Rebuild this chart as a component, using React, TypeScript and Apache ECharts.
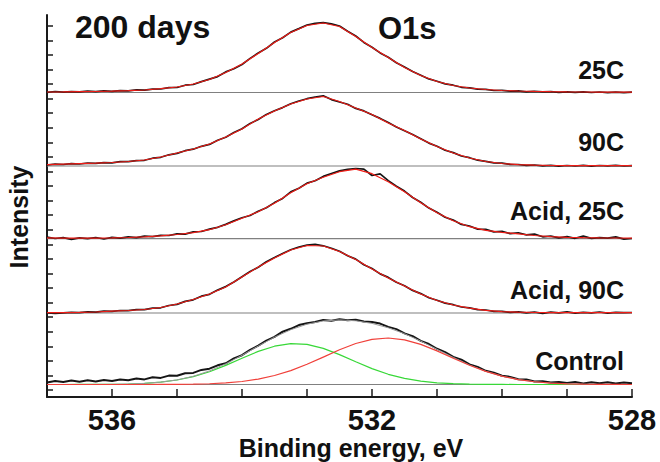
import React, { useEffect, useRef } from "react";
import * as echarts from "echarts";

// Binding energy grids (eV)
const energyFit = [
  537, 536.75, 536.5, 536.25, 536, 535.75, 535.5, 535.25, 535, 534.75, 534.5, 534.25,
  534, 533.75, 533.5, 533.25, 533, 532.75, 532.5, 532.25, 532, 531.75, 531.5, 531.25,
  531, 530.75, 530.5, 530.25, 530, 529.75, 529.5, 529.25, 529, 528.75, 528.5, 528.25, 528,
];
const energyData = [
  537, 536.875, 536.75, 536.625, 536.5, 536.375, 536.25, 536.125,
  536, 535.875, 535.75, 535.625, 535.5, 535.375, 535.25, 535.125,
  535, 534.875, 534.75, 534.625, 534.5, 534.375, 534.25, 534.125,
  534, 533.875, 533.75, 533.625, 533.5, 533.375, 533.25, 533.125,
  533, 532.875, 532.75, 532.625, 532.5, 532.375, 532.25, 532.125,
  532, 531.875, 531.75, 531.625, 531.5, 531.375, 531.25, 531.125,
  531, 530.875, 530.75, 530.625, 530.5, 530.375, 530.25, 530.125,
  530, 529.875, 529.75, 529.625, 529.5, 529.375, 529.25, 529.125,
  529, 528.875, 528.75, 528.625, 528.5, 528.375, 528.25, 528.125,
  528,
];

const labels = ["25C", "90C", "Acid, 25C", "Acid, 90C", "Control"];
// stacking offsets (baseline of each spectrum)
const baselines = [304.5, 231, 158.3, 84, 12.5];

// measured spectra (intensity above baseline)
const data25C = [
  0.2, 1.0, 0.4, 0.9, 0.6, 1.3, 0.9, 1.6,
  1.1, 1.9, 1.6, 2.6, 2.3, 3.4, 3.5, 4.9,
  5.0, 7.3, 8.0, 10.9, 13.4, 15.9, 20.6, 23.8,
  28.0, 34.1, 39.6, 44.2, 50.5, 54.8, 60.4, 63.9,
  67.5, 69.2, 69.8, 68.6, 66.5, 61.2, 56.5, 50.1,
  45.3, 39.6, 35.2, 29.8, 25.4, 21.0, 17.3, 13.6,
  11.2, 8.6, 7.3, 5.2, 4.6, 3.3, 3.2, 2.0,
  2.2, 1.3, 1.6, 0.7, 1.2, 0.6, 0.9, 0.2,
  0.7, 0.1, 0.6, 0.0, 0.5, -0.1, 0.4, -0.2,
  0.3,
];
const data90C = [
  1.0, 1.8, 1.5, 2.3, 2.0, 2.9, 2.6, 3.4,
  3.2, 4.3, 4.4, 5.4, 5.7, 7.8, 8.7, 11.2,
  12.6, 15.3, 16.8, 19.7, 21.6, 25.8, 28.7, 33.4,
  37.2, 42.6, 46.5, 51.6, 55.3, 58.4, 62.2, 65.0,
  67.3, 69.0, 70.2, 66.4, 64.0, 61.8, 57.6, 55.1,
  51.2, 47.6, 43.4, 39.0, 35.2, 31.5, 27.3, 22.9,
  19.8, 15.7, 13.4, 10.0, 8.3, 5.8, 4.7, 3.1,
  2.8, 1.6, 1.5, 0.6, 1.0, 0.2, 0.7, -0.2,
  0.5, 0.0, 0.6, -0.1, 0.5, 0.1, 0.6, 0.0,
  0.4,
];
const dataAcid25C = [
  1.5, 0.2, 1.0, -0.6, 0.9, 0.0, 1.2, -0.3,
  1.3, 0.6, 1.8, 1.0, 2.5, 2.0, 3.4, 3.2,
  4.9, 4.6, 6.8, 7.2, 9.6, 11.4, 14.3, 17.8,
  20.9, 23.2, 27.5, 31.0, 36.1, 40.3, 46.8, 50.4,
  55.6, 58.0, 62.3, 65.2, 67.8, 69.4, 70.2, 69.6,
  63.2, 64.8, 58.1, 52.4, 47.6, 41.2, 36.4, 30.6,
  26.5, 21.4, 18.6, 14.3, 12.7, 9.6, 9.3, 6.8,
  7.4, 5.1, 5.9, 3.8, 4.6, 1.9, 2.5, 0.9,
  2.0, 0.4, 2.6, 0.3, 1.0, 0.6, 1.8, -0.4,
  0.2,
];
const dataAcid90C = [
  0.0, -0.5, 0.2, 0.6, 0.4, 1.1, 0.9, 1.9,
  1.6, 2.5, 2.3, 3.4, 3.3, 4.8, 5.2, 7.5,
  8.6, 11.6, 13.2, 16.8, 18.7, 22.9, 26.4, 31.0,
  36.3, 41.5, 45.8, 51.3, 55.4, 59.6, 63.3, 66.0,
  67.9, 68.6, 67.2, 64.8, 61.8, 57.3, 53.9, 48.2,
  44.5, 39.1, 35.6, 30.8, 27.3, 22.6, 19.4, 15.3,
  12.8, 9.9, 8.3, 6.0, 5.1, 3.4, 3.0, 1.6,
  1.7, 0.6, 1.2, 0.1, 0.8, -0.3, 0.9, 0.1,
  1.2, -0.2, 0.7, 0.2, 1.0, -0.1, 0.6, 0.3,
  0.5,
];
const dataControl = [
  2.0, 3.6, 2.6, 3.9, 2.8, 4.2, 3.1, 4.6,
  3.5, 5.0, 4.2, 5.9, 5.1, 7.2, 6.6, 8.9,
  8.7, 11.3, 11.6, 14.6, 15.8, 19.2, 21.2, 26.1,
  29.3, 34.6, 38.8, 43.9, 47.6, 52.8, 55.7, 59.4,
  61.2, 62.5, 64.6, 63.7, 65.3, 64.2, 64.8, 63.1,
  62.4, 60.9, 57.6, 55.4, 51.1, 48.3, 43.6, 40.5,
  35.7, 32.4, 27.6, 24.8, 20.1, 17.6, 13.7, 11.8,
  8.8, 7.6, 5.2, 4.9, 3.1, 3.3, 1.9, 2.6,
  1.5, 2.4, 1.1, 2.2, 1.2, 2.3, 0.9, 1.9,
  1.2,
];

// fitted curves
const fit25C = [
  0.5, 0.6, 0.8, 1.0, 1.3, 1.8, 2.5, 3.8, 5.5, 8.5, 13, 20, 28.5, 39, 50, 60,
  67, 69.5, 66, 56, 45, 35, 25, 17, 11, 7, 4.5, 3, 2, 1.5, 1.1, 0.8, 0.6, 0.5, 0.4, 0.3, 0.3,
];
const fit90C = [
  1.3, 1.8, 2.3, 2.8, 3.5, 4.5, 6, 9, 13, 17, 22, 29, 37, 47, 55, 62,
  67, 69.5, 64.5, 58, 51.5, 43, 35.5, 27, 19.5, 13, 8, 4.5, 2.5, 1.3, 0.8, 0.5, 0.3, 0.3, 0.3, 0.3, 0.3,
];
const fitAcid25C = [
  0.8, 0.6, 0.5, 0.6, 0.8, 1.2, 1.8, 2.8, 4.2, 6, 9, 14, 20.5, 27, 35.5, 46,
  55, 61.5, 67, 69.5, 65, 57, 47, 36, 26, 18, 12, 8.3, 6.3, 4.8, 3.2, 2, 1.3, 1, 0.8, 0.7, 0.6,
];
const fitAcid90C = [
  0.3, 0.4, 0.6, 1, 1.8, 2.5, 3.5, 5.5, 9, 13.5, 19, 26, 36, 46, 55, 63,
  67.5, 67, 61.5, 53.5, 44, 35, 27, 19, 12.5, 8, 4.8, 2.7, 1.4, 0.8, 0.5, 0.4, 0.3, 0.3, 0.3, 0.3, 0.3,
];
const controlPeakHigh = [
  0, 0.01, 0.03, 0.07, 0.2, 0.5, 1.1, 2.3, 4.5, 7.9, 12.8, 19.1, 26.2, 33.1, 38.3, 40.9,
  40.1, 36.1, 29.9, 22.7, 15.9, 10.2, 6.1, 3.3, 1.6, 0.8, 0.3, 0.1, 0.04, 0, 0, 0, 0, 0, 0, 0, 0,
];
const controlPeakLow = [
  0, 0, 0, 0, 0, 0.01, 0.02, 0.06, 0.15, 0.35, 0.77, 1.58, 3.0, 5.4, 9.0, 13.9,
  20.2, 27.4, 34.7, 41.0, 45.2, 46.5, 44.7, 40.1, 33.6, 26.3, 19.2, 13.1, 8.3, 4.95, 2.75, 1.42, 0.69, 0.31, 0.13, 0.05, 0.02,
];
const controlEnvelope = [
  0, 0.01, 0.03, 0.07, 0.2, 0.5, 1.1, 2.4, 4.6, 8.2, 13.6, 20.7, 29.2, 38.5, 47.3, 54.8,
  60.3, 63.5, 64.6, 63.7, 61.1, 56.7, 50.8, 43.4, 35.2, 27.1, 19.5, 13.2, 8.3, 4.95, 2.75, 1.42, 0.69, 0.31, 0.13, 0.05, 0.02,
];

const xTickLabels = [536, 532, 528];
const yTickValues = [
  7, 21.57, 36.14, 50.71, 65.28, 79.85, 94.42, 108.99, 123.56, 138.13, 152.7, 167.27, 181.84,
  196.41, 210.98, 225.55, 240.12, 254.69, 269.26, 283.83, 298.4, 312.97, 327.54, 342.11, 356.68, 371.25,
];

const measured = [data25C, data90C, dataAcid25C, dataAcid90C, dataControl];
const fits = [fit25C, fit90C, fitAcid25C, fitAcid90C];

const FONT = '"Liberation Sans", Arial, Helvetica, sans-serif';
const AXIS = "#1a1a1a";

function lineSeries(xs: number[], ys: number[], off: number, color: string, width: number) {
  return {
    type: "line",
    data: xs.map((x, i) => [x, off + ys[i]]),
    showSymbol: false,
    symbol: "none",
    silent: true,
    lineStyle: { color, width },
    itemStyle: { color },
    z: 2,
  };
}

export default function App() {
  const ref = useRef<HTMLDivElement>(null);
  useEffect(() => {
    if (!ref.current) return;
    const chart = echarts.init(ref.current, undefined, { renderer: "svg" });
    const series: any[] = [];
    baselines.forEach((b) => {
      series.push(lineSeries([537, 528], [0, 0], b, "#808080", 1.2));
    });
    measured.forEach((d, i) => {
      if (i === 4) return;
      series.push(lineSeries(energyData, d, baselines[i], "#151515", 1.7));
      series.push(lineSeries(energyFit, fits[i], baselines[i], "#ee1c16", 1.2));
    });
    const cb = baselines[4];
    series.push(lineSeries(energyFit, controlPeakHigh, cb, "#38d838", 1.2));
    series.push(lineSeries(energyData, dataControl, cb, "#151515", 2));
    series.push(lineSeries(energyFit, controlEnvelope, cb, "#9a9a9a", 1));
    series.push(lineSeries(energyFit, controlPeakLow, cb, "#f0403a", 1.2));

    const labelY = [69.5, 141.7, 211, 290, 361];
    const graphic: any[] = [
      {
        type: "text", x: 75, y: 27,
        style: { text: "200 days", fontSize: 32, fontWeight: "bold", fontFamily: FONT, fill: "#111", align: "left", verticalAlign: "middle" },
      },
      {
        type: "text", x: 378, y: 28,
        style: { text: "O1s", fontSize: 31, fontWeight: "bold", fontFamily: FONT, fill: "#111", align: "left", verticalAlign: "middle" },
      },
      {
        type: "text", x: 351, y: 448,
        style: { text: "Binding energy, eV", fontSize: 25, fontWeight: "bold", fontFamily: FONT, fill: "#111", align: "center", verticalAlign: "middle" },
      },
      {
        type: "text", x: 19, y: 217, rotation: Math.PI / 2,
        style: { text: "Intensity", fontSize: 25, fontWeight: "bold", fontFamily: FONT, fill: "#111", align: "center", verticalAlign: "middle" },
      },
      ...labels.map((t, i) => ({
        type: "text", x: 624, y: labelY[i],
        style: { text: t, fontSize: 25, fontWeight: "bold", fontFamily: FONT, fill: "#111", align: "right", verticalAlign: "middle" },
      })),
    ];

    chart.setOption({
      animation: false,
      backgroundColor: "#ffffff",
      grid: { left: 47, right: 28, top: 15, bottom: 65 },
      xAxis: {
        type: "value",
        min: 528,
        max: 537,
        interval: 1,
        inverse: true,
        axisLine: { show: true, lineStyle: { color: AXIS, width: 2 } },
        axisTick: { show: true, inside: true, length: 8, lineStyle: { color: AXIS, width: 1.5 } },
        axisLabel: {
          formatter: (v: number) => (xTickLabels.includes(v) ? String(v) : ""),
          fontSize: 29,
          fontWeight: "bold",
          fontFamily: FONT,
          color: "#111",
          margin: 8,
        },
        splitLine: { show: false },
      },
      yAxis: {
        type: "value",
        min: 0,
        max: 382,
        axisLine: { show: true, lineStyle: { color: AXIS, width: 2 } },
        axisTick: { show: true, inside: true, length: 6, customValues: yTickValues, lineStyle: { color: AXIS, width: 1.5 } },
        axisLabel: { show: false },
        splitLine: { show: false },
      },
      series,
      graphic,
    });
    return () => chart.dispose();
  }, []);
  return <div ref={ref} style={{ position: "absolute", left: 0, top: 0, width: 660, height: 462 }} />;
}
